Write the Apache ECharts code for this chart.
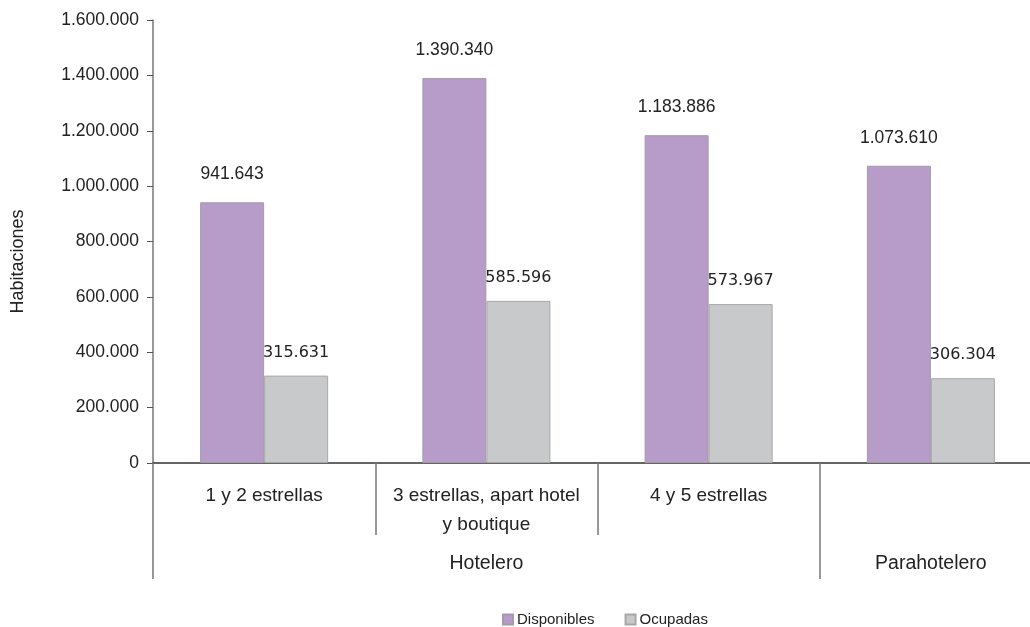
<!DOCTYPE html>
<html><head><meta charset="utf-8">
<script src="https://cdn.jsdelivr.net/npm/echarts@6/dist/echarts.min.js"></script>
<style>html,body{margin:0;padding:0;background:#fff;overflow:hidden;width:1030px;height:627px}#c{width:1042px;height:627px}</style>
</head><body><div id="c"></div>
<script>
const categories = ['1 y 2 estrellas', '3 estrellas, apart hotel\ny boutique', '4 y 5 estrellas', ''];
const groups = ['', 'Hotelero', '', 'Parahotelero'];
const disponibles = [941643, 1390340, 1183886, 1073610];
const ocupadas = [315631, 585596, 573967, 306304];
const yTicks = [0, 200000, 400000, 600000, 800000, 1000000, 1200000, 1400000, 1600000];

const fmt = v => String(v).replace(/\B(?=(\d{3})+(?!\d))/g, '.');
const chart = echarts.init(document.getElementById('c'));
chart.setOption({
  animation: false,
  grid: { left: 153, top: 20, right: 0, bottom: 164, containLabel: false },
  legend: {
    top: 607, left: 497, itemWidth: 10, itemHeight: 10, itemGap: 30,
    icon: 'rect',
    textStyle: { fontFamily: 'Liberation Sans', fontSize: 15, color: '#222', padding: [0, 0, 0, -1] },
    data: ['Disponibles', 'Ocupadas']
  },
  xAxis: [{
    type: 'category', data: categories, position: 'bottom',
    axisLine: { lineStyle: { color: '#333', width: 1.5 } },
    axisTick: { show: true, length: 72, lineStyle: { color: '#777', width: 1.5 } },
    axisLabel: { fontFamily: 'Liberation Sans', fontSize: 19, color: '#222', margin: 18, lineHeight: 29, interval: 0 }
  }, {
    type: 'category', data: groups, position: 'bottom',
    axisLine: { show: false },
    axisTick: { show: true, length: 116, interval: (i) => i === 0 || i === 3, lineStyle: { color: '#777', width: 1.5 } },
    axisLabel: { fontFamily: 'Liberation Sans', fontSize: 19.5, color: '#222', margin: 91, interval: 0 }
  }],
  yAxis: {
    type: 'value', min: 0, max: 1600000, interval: 200000,
    name: 'Habitaciones', nameLocation: 'middle', nameGap: 126,
    nameTextStyle: { fontFamily: 'Liberation Sans', fontSize: 18, color: '#222', padding: [0, 40, 0, 0] },
    axisLine: { show: true, lineStyle: { color: '#777', width: 1.5 } },
    axisTick: { show: true, length: 6, lineStyle: { color: '#555' } },
    splitLine: { show: false },
    axisLabel: { fontFamily: 'Liberation Sans', fontSize: 17.5, color: '#222', margin: 14, formatter: v => fmt(v) }
  },
  series: [{
    name: 'Disponibles', type: 'bar', data: disponibles, barWidth: 64, barGap: '0%',
    itemStyle: { color: '#B79BC8', borderColor: '#a59aa9', borderWidth: 1 },
    label: { show: true, position: 'top', distance: 19, fontFamily: 'Liberation Sans', fontSize: 17.5, color: '#222', formatter: p => fmt(p.value) }
  }, {
    name: 'Ocupadas', type: 'bar', data: ocupadas, barWidth: 64,
    itemStyle: { color: '#C8C9CB', borderColor: '#a8a8a8', borderWidth: 1 },
    label: { show: true, position: 'top', distance: 15, fontFamily: 'DejaVu Sans', fontSize: 16, color: '#222', formatter: p => fmt(p.value) }
  }]
});
</script></body></html>
